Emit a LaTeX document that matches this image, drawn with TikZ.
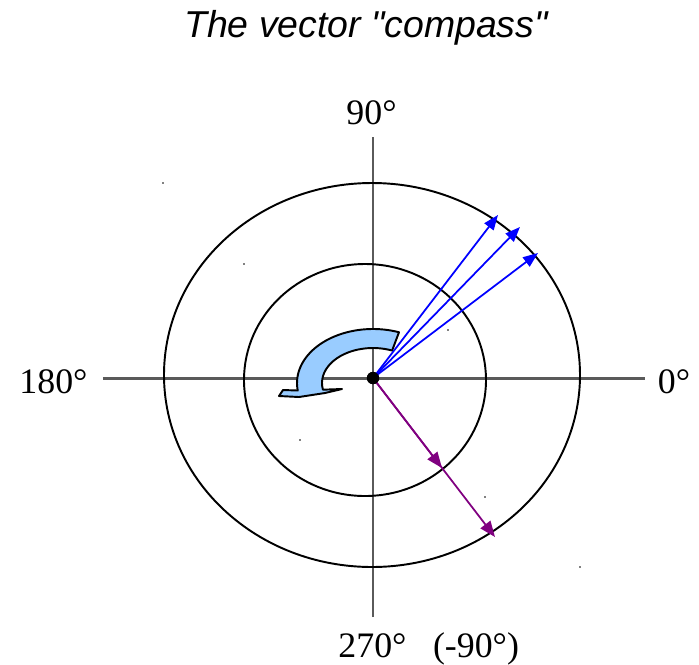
\documentclass[tikz,border=0pt]{standalone}
\usepackage{fontspec}
\setmainfont{Liberation Serif}
\setsansfont{Liberation Sans}[Ligatures=TeXOff]
\usetikzlibrary{arrows.meta,positioning}
\definecolor{CompassBlue}{HTML}{0000FF}
\definecolor{CompassPurple}{HTML}{800080}
\definecolor{CompassFill}{HTML}{99CCFF}
\definecolor{CompassAxis}{HTML}{5A5A5A}

\begin{document}
\begin{tikzpicture}[x=0.02cm,y=0.02cm,
    every node/.style={font=\fontsize{20.4}{24}\selectfont,inner sep=0pt},
    axis/.style={CompassAxis,line width=1.7pt},
    ring/.style={black,line width=1.1pt},
    band/.style={fill=CompassFill,draw=black,line width=1.1pt,line join=round},
    bvec/.style={CompassBlue,line width=1pt,-{Triangle[length=8.5pt,width=6.5pt]}},
    pvec/.style={CompassPurple,line width=1pt,-{Triangle[length=9pt,width=7pt]}},
    dot/.style={circle,fill=black,minimum size=7pt}]
    \useasboundingbox (-373,-286) rectangle (326,378);
    \node[anchor=base,font=\fontsize{21.3}{25}\selectfont\sffamily\itshape] (title) at (-7,341) {The vector "compass"};
    % axes and rings
    \draw[axis] (-270,0) -- (272,0);
    \draw[axis] (0,-239) -- (0,241);
    \draw[ring] (-1,3) ellipse [x radius=208, y radius=192];
    \draw[ring] (-8,-2) ellipse [x radius=121, y radius=116];
    \foreach \x/\y in {-210/195,-129/114,-73/-62,112/-119,207/-189,75/48}{
      \fill (\x,\y) circle[radius=0.8];}
    % rotation arrow
    \begin{scope}[shift={(0,-5)}]
      \filldraw[band] (70:76 and 54) arc[start angle=70,end angle=188,x radius=76,y radius=54]
        -- (-90,-7) -- (-94,-13) -- (-74,-14) -- (-48,-10) -- (-31,-6)
        -- (191:51 and 35) arc[start angle=191,end angle=68,x radius=51,y radius=35] -- cycle;
    \end{scope}
    % labels
    \node[anchor=base] (lbl90) at (-1.5,254) {90°};
    \node[anchor=base] (lbl180) at (-319.5,-15) {180°};
    \node[anchor=base] (lbl0) at (301,-15) {0°};
    \node[anchor=base] (lbl270) at (-0.5,-279) {270°};
    \node[anchor=base] (lblneg90) at (103,-279) {(-90°)};
    % vectors
    \node[dot] (O) at (0,0) {};
    \coordinate (b1) at (125,163);
    \coordinate (b2) at (147,151);
    \coordinate (b3) at (165,125);
    \coordinate (p1) at (69,-90);
    \coordinate (p2) at (122,-159);
    \foreach \t in {b1,b2,b3}{
      \draw[bvec] (O.center) -- (\t);}
    \draw[pvec] (O.center) -- (p2);
    \draw[pvec] (O.center) -- (p1);
    \node[dot] at (O) {};
\end{tikzpicture}
\end{document}
